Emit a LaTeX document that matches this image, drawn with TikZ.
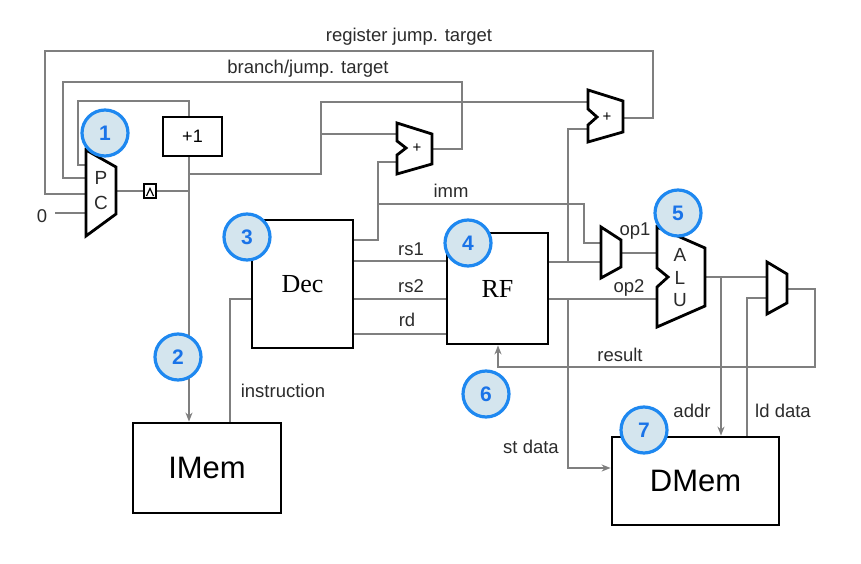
\documentclass[tikz,border=0pt]{standalone}
\usepackage{fontspec}
\setmainfont{Liberation Sans}
\newfontfamily\serifb{Liberation Serif}
\usetikzlibrary{arrows.meta}
\definecolor{wirec}{HTML}{7F7F7F}
\definecolor{cfill}{HTML}{D4E5EE}
\definecolor{cline}{HTML}{1E88F0}
\definecolor{ctext}{HTML}{1A73E8}
\definecolor{txt}{HTML}{2B2B2B}
\begin{document}
\begin{tikzpicture}[x=1pt,y=-1pt,
  wire/.style={draw=wirec,line width=1.6pt},
  arr/.style={wire,-{Stealth[length=9pt,width=7pt]}},
  blk/.style={draw=black,line width=2.8pt,line join=miter},
  box/.style={blk,fill=white,inner sep=0pt,text=black},
  lbl/.style={font=\fontsize{18.5}{20}\selectfont,text=txt,inner sep=0pt,anchor=base},
  inlbl/.style={font=\fontsize{19}{20}\selectfont,text=txt,inner sep=0pt,anchor=base},
  plus/.style={font=\fontsize{15}{16}\selectfont,text=black,inner sep=0pt},
  num/.style={circle,draw=cline,fill=cfill,line width=3.2pt,minimum size=46pt,inner sep=0pt,
    font=\fontsize{21}{21}\selectfont\bfseries,text=ctext}
]
\useasboundingbox (0,0) rectangle (861,564);

% ---------- wires ----------
% PC output and clock
\draw[wire] (116,191) coordinate (pcout) -- (189,191) coordinate (pcj);
% loops
\coordinate (pcin1) at (86,165);
\coordinate (pcin2) at (86,178);
\coordinate (pcin3) at (86,194);
\coordinate (pcin0) at (86,213);
\coordinate (a1out) at (432,149);
\coordinate (a2out) at (623,118);
\coordinate (a1in1) at (397,134);
\coordinate (a1in2) at (397,162);
\coordinate (a2in1) at (588,102);
\coordinate (a2in2) at (588,129);
\coordinate (m1in1) at (601,243);
\coordinate (m1in2) at (601,262);
\coordinate (m1out) at (621,253);
\coordinate (aluin1) at (657,253);
\coordinate (aluin2) at (657,299);
\coordinate (aluout) at (705,277);
\coordinate (m2in1) at (767,277);
\coordinate (m2in2) at (767,298);
\coordinate (m2out) at (787,289);
\coordinate (zero) at (55,213);

% boxes
\node[box,minimum width=59pt,minimum height=39pt,font=\fontsize{18}{18}\selectfont] (inc) at (192.5,136.5) {+1};
\node[box,minimum width=101pt,minimum height=128pt,font=\serifb\fontsize{26}{26}\selectfont] (dec) at (302.5,284) {Dec};
\node[box,minimum width=101pt,minimum height=111pt,font=\serifb\fontsize{26}{26}\selectfont] (rf) at (497.5,288.5) {RF};
\node[box,minimum width=148pt,minimum height=90pt,font=\fontsize{31}{31}\selectfont] (imem) at (207,468) {IMem};
\node[box,minimum width=167pt,minimum height=88pt,font=\fontsize{31}{31}\selectfont] (dmem) at (695.5,481) {DMem};

\draw[wire] (inc.north -| pcj) -- (189,101) -- (78,101) -- (78,165) -- (pcin1);
\draw[wire] (a1out) -- (462,149) -- (462,82) -- (63,82) -- (63,178) -- (pcin2);
\draw[wire] (a2out) -- (653,118) -- (653,51) -- (45,51) -- (45,194) -- (pcin3);
\draw[wire] (zero) -- (pcin0);
\draw[arr] (inc.south -| pcj) -- (imem.north -| pcj);
\draw[wire] (189,174) -- (321,174) -- (321,102) -- (a2in1);
\draw[wire] (321,134) -- (a1in1);
% Dec outputs
\draw[wire] (dec.east |- 0,240) -- (378,240) -- (378,162) -- (a1in2);
\draw[wire] (378,204) -- (584,204) -- (584,243) -- (m1in1);
\draw[wire] (dec.east |- 0,261) -- (rf.west |- 0,261);
\draw[wire] (dec.east |- 0,299) -- (rf.west |- 0,299);
\draw[wire] (dec.east |- 0,334) -- (rf.west |- 0,334);
% instruction
\draw[wire] (imem.north -| 230,0) -- (230,299) -- (dec.west |- 0,299);
% RF outputs
\draw[wire] (rf.east |- 0,262) -- (m1in2);
\draw[wire] (568,262) -- (568,129) -- (a2in2);
\draw[wire] (rf.east |- 0,299) -- (aluin2);
\draw[arr] (568,299) -- (568,468) -- (dmem.west |- 0,468);
\draw[wire] (m1out) -- (aluin1);
% ALU output
\draw[wire] (aluout) -- (m2in1);
\draw[arr] (721,277) -- (dmem.north -| 721,0);
\draw[wire] (dmem.north -| 747,0) -- (747,298) -- (m2in2);
\draw[arr] (m2out) -- (815,289) -- (815,367) -- (498,367) -- (rf.south -| 498,0);

% ---------- units ----------
% PC
\draw[blk,fill=white] (86,150) -- (116,167) -- (116,214) -- (86,236) -- cycle;
\node[inlbl] (pcP) at (101,184) {P};
\node[inlbl] (pcC) at (101,209) {C};
% clock symbol
\draw[black,line width=1.5pt,fill=white] (144,184) rectangle (156,198);
\draw[black,line width=1.2pt] (146.5,196) -- (150,188.5) -- (153.5,196);
% adder 1
\draw[blk,fill=white] (397,123) -- (432,134) -- (432,164) -- (397,174) -- (397,155) -- (406,148) -- (397,141) -- cycle;
\node[plus] (p1) at (417,148) {+};
% adder 2
\draw[blk,fill=white] (588,90) -- (623,101) -- (623,132) -- (588,142) -- (588,125) -- (597,117) -- (588,109) -- cycle;
\node[plus] (p2) at (607,117) {+};
% operand mux
\draw[blk,fill=white] (601,227) -- (621,240) -- (621,267) -- (601,278) -- cycle;
% ALU
\draw[blk,fill=white] (657,227) -- (705,248) -- (705,306) -- (657,327) -- (657,287) -- (668,277) -- (657,268) -- cycle;
\node[inlbl] (aA) at (680,261) {A};
\node[inlbl] (aL) at (680,284) {L};
\node[inlbl] (aU) at (680,306) {U};
% result mux
\draw[blk,fill=white] (767,262) -- (787,274) -- (787,303) -- (767,314) -- cycle;

% ---------- labels ----------
\node[lbl] (lrj) at (409,42) {register jump. target};
\node[lbl] (lbj) at (308,74) {branch/jump. target};
\node[lbl] (limm) at (451,197) {imm};
\node[lbl] (lrs1) at (411,255) {rs1};
\node[lbl] (lrs2) at (411,292) {rs2};
\node[lbl] (lrd) at (407,326) {rd};
\node[lbl] (lop1) at (635,235) {op1};
\node[lbl] (lop2) at (629,292) {op2};
\node[lbl] (lres) at (620,361) {result};
\node[lbl] (lins) at (283,397) {instruction};
\node[lbl] (laddr) at (692,417) {addr};
\node[lbl] (lld) at (783,417) {ld data};
\node[lbl] (lst) at (531,453) {st data};
\node[lbl] (lzero) at (42,222) {0};

% ---------- step markers ----------
\node[num] (n1) at (105,133) {1};
\node[num] (n2) at (178,357) {2};
\node[num] (n3) at (247,237) {3};
\node[num] (n4) at (468,243) {4};
\node[num] (n5) at (678,213) {5};
\node[num] (n6) at (486,394) {6};
\node[num] (n7) at (644,430) {7};
\end{tikzpicture}
\end{document}
